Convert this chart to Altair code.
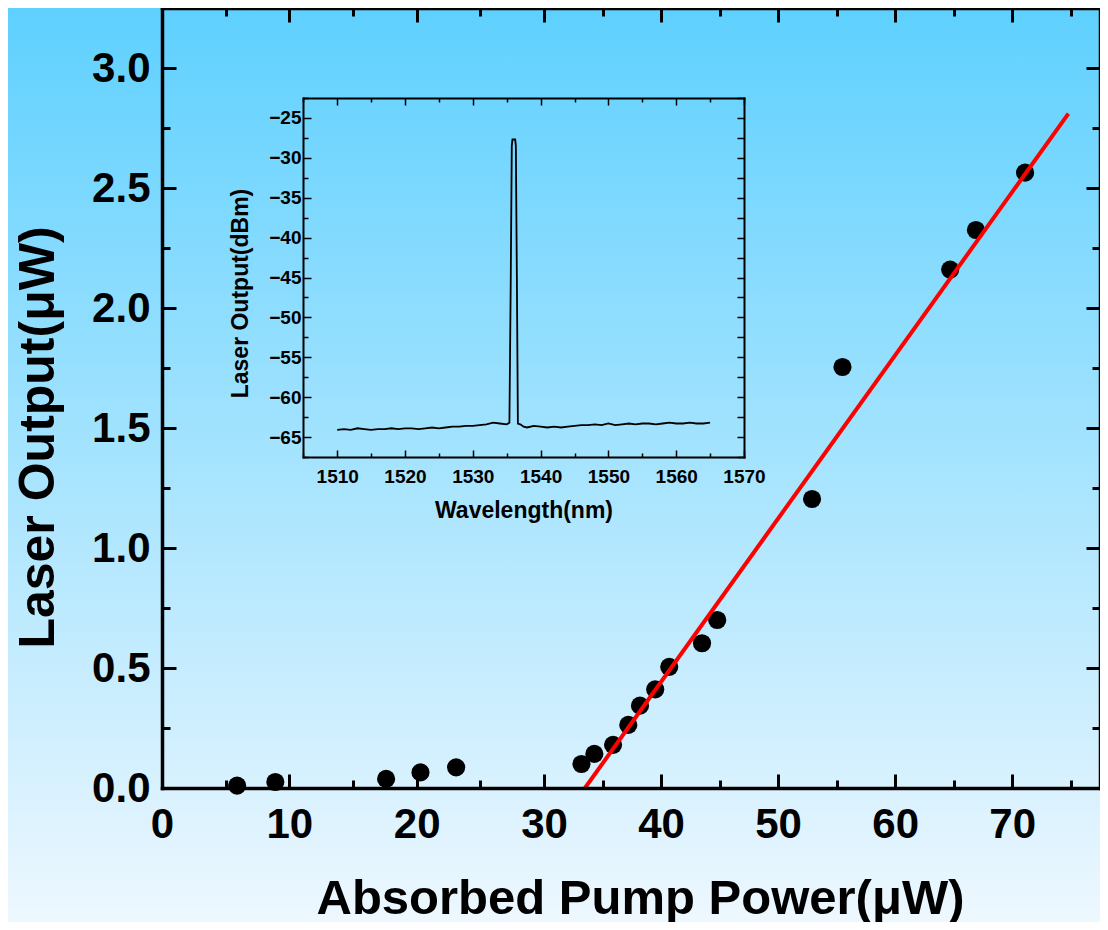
import altair as alt
import pandas as pd

# ---------------- data ----------------
pump_power = [5.9, 8.9, 17.6, 20.3, 23.1, 33.2, 34.3, 35.9, 37.2, 38.2, 39.5, 40.7,
              43.5, 44.8, 52.9, 55.5, 64.7, 66.9, 71.1]
laser_out = [0.01, 0.025, 0.038, 0.065, 0.086, 0.10, 0.142, 0.18, 0.263, 0.343, 0.411,
             0.505, 0.603, 0.70, 1.204, 1.754, 2.16, 2.325, 2.564]

fit_x = [33.5, 74.8]
fit_y = [0.0, 2.81]

wavelength = [1510, 1511, 1512, 1513, 1514, 1515, 1516, 1517, 1518, 1519, 1520, 1521,
              1522, 1523, 1524, 1525, 1526, 1527, 1528, 1529, 1530, 1531, 1532, 1533,
              1534, 1535, 1535.4, 1535.6, 1535.75, 1535.85, 1536.25, 1536.35, 1536.5,
              1536.65, 1537, 1537.5, 1538, 1539, 1540, 1541, 1542, 1543, 1544, 1545,
              1546, 1547, 1548, 1549, 1550, 1551, 1552, 1553, 1554, 1555, 1556, 1557,
              1558, 1559, 1560, 1561, 1562, 1563, 1564, 1565]
level_dbm = [-64.1, -64.0, -64.1, -63.9, -64.0, -64.1, -64.0, -64.0, -63.9, -64.0, -63.9,
             -63.9, -64.0, -63.9, -63.8, -63.9, -63.8, -63.7, -63.7, -63.6, -63.6, -63.5,
             -63.4, -63.2, -63.3, -63.4, -63.2, -45.0, -28.5, -27.7, -27.7, -28.5, -45.0,
             -63.3, -63.4, -63.7, -63.8, -63.6, -63.7, -63.8, -63.7, -63.8, -63.7, -63.6,
             -63.5, -63.5, -63.4, -63.5, -63.3, -63.5, -63.4, -63.3, -63.4, -63.3, -63.3,
             -63.4, -63.3, -63.2, -63.3, -63.3, -63.2, -63.3, -63.3, -63.2]

x_major = [0, 10, 20, 30, 40, 50, 60, 70]
x_minor = [5, 15, 25, 35, 45, 55, 65, 75]
y_major = [0.0, 0.5, 1.0, 1.5, 2.0, 2.5, 3.0]
y_minor = [0.25, 0.75, 1.25, 1.75, 2.25, 2.75, 3.25]

wl_major = [1510, 1520, 1530, 1540, 1550, 1560, 1570]
wl_minor = [1505, 1515, 1525, 1535, 1545, 1555, 1565]
db_major = [-65, -60, -55, -50, -45, -40, -35, -30, -25]
db_minor = [-67.5, -62.5, -57.5, -52.5, -47.5, -42.5, -37.5, -32.5, -27.5, -22.5]

FONT = "Liberation Sans"
W, H = 938, 780

pts = pd.DataFrame({"pump": pump_power, "out": laser_out})
fit = pd.DataFrame({"pump": fit_x, "out": fit_y})
spec = pd.DataFrame({"wl": wavelength, "db": level_dbm})

xs = alt.Scale(domain=[0, 30, 77.5], range=[0, 382, W], nice=False, zero=False)
ys = alt.Scale(domain=[0, 3.25], nice=False, zero=False)
wxs = alt.Scale(domain=[1505, 1570], range=[141.3, 582], nice=False, zero=False)
dys = alt.Scale(domain=[-67.5, -22.5], range=[449, 90], nice=False, zero=False)
RIGHT_OFF = 582 - W


def axis(orient, values, size, dwidth, twidth, labels=False, domain=True, **kw):
    return alt.Axis(orient=orient, values=values, tickSize={"expr": str(size)},
                    labels=labels, domain=domain, grid=False, domainColor="black",
                    tickColor="black", domainWidth=dwidth, tickWidth=twidth,
                    domainCap="square", zindex=1, labelFlush=False, labelOverlap=False,
                    labelBound=False, labelFont=FONT, labelFontWeight="bold",
                    labelColor="black", titleFont=FONT, titleFontWeight="bold",
                    titleColor="black", **kw)


# ---------------- background ----------------
bg = alt.Chart(pd.DataFrame({"a": [0]})).mark_rect(
    color=alt.LinearGradient(
        gradient="linear", x1=0, x2=0, y1=0, y2=1,
        stops=[alt.GradientStop(color="#5DD0FE", offset=0),
               alt.GradientStop(color="#F0F8FE", offset=1)])
).encode(x=alt.value(-160), x2=alt.value(960), y=alt.value(-10), y2=alt.value(930))

# ---------------- main plot ----------------
m1 = alt.Chart(pts).mark_circle(size=330, color="black", opacity=1).encode(
    x=alt.X("pump:Q", scale=xs,
            axis=axis("bottom", x_major, -14, 3.5, 3, labels=True, format="d",
                      labelFontSize=42, labelPadding=30,
                      title="Absorbed Pump Power(μW)", titleFontSize=49,
                      titleX=478, titleY=110, titleAlign="center",
                      titleBaseline="middle", titleAngle=0)),
    y=alt.Y("out:Q", scale=ys,
            axis=axis("left", y_major, -14, 3.5, 3, labels=True, format=".1f",
                      labelFontSize=42, labelPadding=26,
                      title="Laser Output(μW)", titleFontSize=50,
                      titleX=-124, titleY=429, titleAlign="center",
                      titleBaseline="middle", titleAngle=270)),
)
m2 = alt.Chart(fit).mark_line(color="#FF0000", strokeWidth=4).encode(
    x=alt.X("pump:Q", scale=xs, axis=axis("top", x_major, -14, 3.5, 3, title=None)),
    y=alt.Y("out:Q", scale=ys, axis=axis("right", y_major, -14, 3.5, 3, title=None)),
)
m3 = alt.Chart(pts).mark_circle(opacity=0).encode(
    x=alt.X("pump:Q", scale=xs, axis=axis("bottom", x_minor, -8, 3.5, 3, domain=False, title=None)),
    y=alt.Y("out:Q", scale=ys, axis=axis("left", y_minor, -8, 3.5, 3, domain=False, title=None)),
)
m4 = alt.Chart(fit).mark_line(opacity=0).encode(
    x=alt.X("pump:Q", scale=xs, axis=axis("top", x_minor, -8, 3.5, 3, domain=False, title=None)),
    y=alt.Y("out:Q", scale=ys, axis=axis("right", y_minor, -8, 3.5, 3, domain=False, title=None)),
)
main = alt.layer(m1, m2, m3, m4).resolve_axis(x="independent", y="independent")

# ---------------- inset ----------------
i1 = alt.Chart(spec).mark_line(color="black", strokeWidth=1.8).encode(
    x=alt.X("wl:Q", scale=wxs,
            axis=axis("bottom", wl_major, -7, 2, 1.5, labels=True, format="d",
                      offset=-331, labelFontSize=19, labelPadding=17,
                      title="Wavelength(nm)", titleFontSize=23, titleX=361.5,
                      titleY=53, titleAlign="center", titleBaseline="middle",
                      titleAngle=0)),
    y=alt.Y("db:Q", scale=dys,
            axis=axis("left", db_major, -8, 2, 1.5, labels=True, format="d",
                      offset=-141, labelFontSize=19, labelPadding=10,
                      title="Laser Output(dBm)", titleFontSize=23, titleX=-63,
                      titleY=285, titleAlign="center", titleBaseline="middle",
                      titleAngle=270)),
)
i2 = alt.Chart(spec).mark_line(opacity=0).encode(
    x=alt.X("wl:Q", scale=wxs, axis=axis("bottom", wl_minor, -4, 2, 1.5, domain=False, offset=-331, title=None)),
    y=alt.Y("db:Q", scale=dys, axis=axis("left", db_minor, -5, 2, 1.5, domain=False, offset=-141, title=None)),
)
i3 = alt.Chart(spec).mark_line(opacity=0).encode(
    x=alt.X("wl:Q", scale=wxs, axis=axis("top", wl_major, -7, 2, 1.5, offset=-90, title=None)),
    y=alt.Y("db:Q", scale=dys, axis=axis("right", db_major, -7, 2, 1.5, offset=RIGHT_OFF, title=None)),
)
i4 = alt.Chart(spec).mark_line(opacity=0).encode(
    x=alt.X("wl:Q", scale=wxs, axis=axis("top", wl_minor, -4, 2, 1.5, domain=False, offset=-90, title=None)),
    y=alt.Y("db:Q", scale=dys, axis=axis("right", db_minor, -7, 2, 1.5, domain=False, offset=RIGHT_OFF, title=None)),
)
inset = alt.layer(i1, i2, i3, i4).resolve_axis(x="independent", y="independent")

chart = alt.layer(bg, main, inset).resolve_scale(
    x="independent", y="independent"
).properties(
    width=W, height=H,
    padding={"left": 154, "top": 0, "right": 0, "bottom": 134},
    autosize=alt.AutoSizeParams(type="none"),
).configure_view(strokeWidth=0).configure(font=FONT)

chart.save("out.html", embed_options={"renderer": "svg", "actions": False})
